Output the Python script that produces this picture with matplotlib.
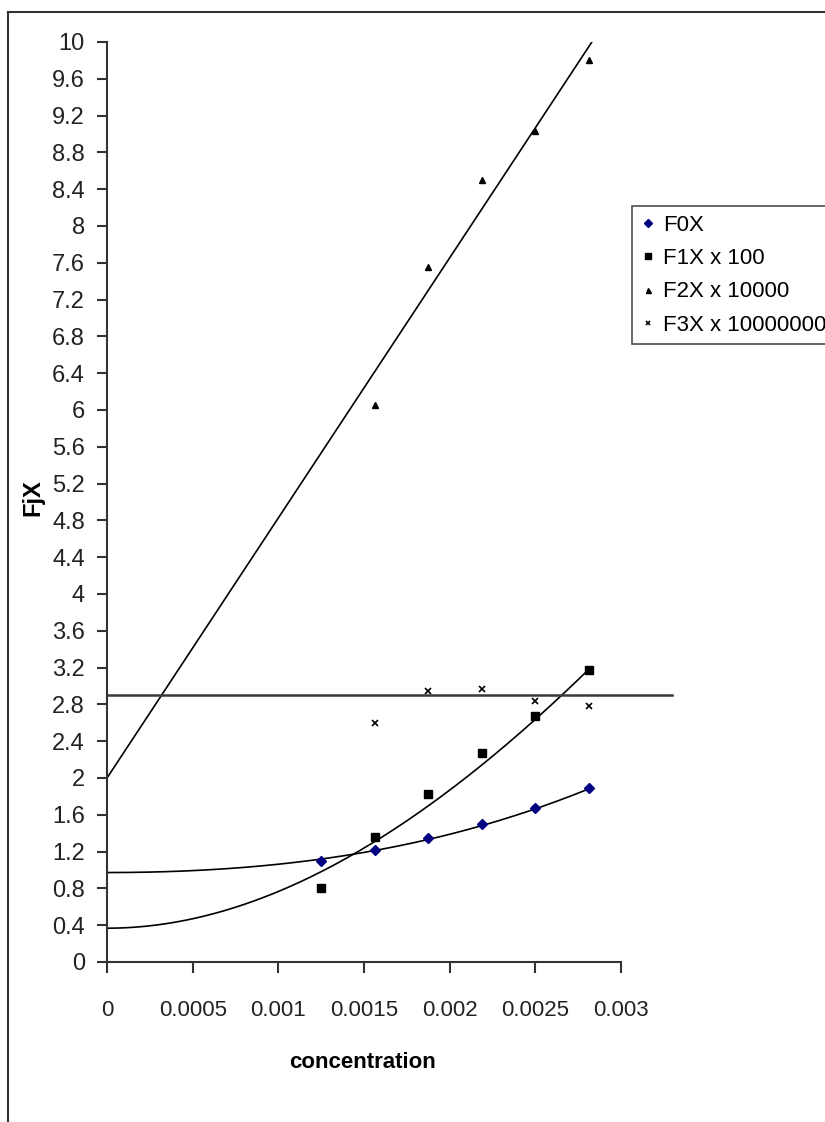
import numpy as np
import matplotlib
matplotlib.use("Agg")
import matplotlib.pyplot as plt
from matplotlib.lines import Line2D

# chart data
conc = [0.00125, 0.0015625, 0.001875, 0.0021875, 0.0025, 0.0028125]
f0x = [1.10, 1.22, 1.35, 1.50, 1.67, 1.89]
f1x = [0.80, 1.36, 1.83, 2.27, 2.67, 3.17]
conc_hi = [0.0015625, 0.001875, 0.0021875, 0.0025, 0.0028125]
f2x = [6.05, 7.55, 8.50, 9.03, 9.80]
f3x = [2.60, 2.95, 2.97, 2.84, 2.78]

# trendlines as drawn in the picture
trend0_x = [0, 0.0005, 0.001, 0.00125, 0.0015625, 0.001875, 0.0021875, 0.0025, 0.0028125]
trend0_y = [0.98, 1.00, 1.05, 1.10, 1.22, 1.34, 1.49, 1.66, 1.88]
trend1_x = [0, 0.00025, 0.0005, 0.0008, 0.001, 0.00125, 0.0015, 0.001875, 0.0021875, 0.0025, 0.0028125]
trend1_y = [0.42, 0.44, 0.49, 0.58, 0.70, 0.91, 1.20, 1.76, 2.22, 2.64, 3.14]
trend2_x = [0, 0.00283]
trend2_y = [2.0, 10.0]
trend3_x = [0, 0.0033]
trend3_y = [2.90, 2.90]

xticks = [0, 0.0005, 0.001, 0.0015, 0.002, 0.0025, 0.003]
xticklabels = ['0', '0.0005', '0.001', '0.0015', '0.002', '0.0025', '0.003']
legend_labels = ['F0X', 'F1X x 100', 'F2X x 10000', 'F3X x 10000000']

plt.rcParams['font.family'] = ['Liberation Sans', 'DejaVu Sans']

W, H = 825, 1122
fig = plt.figure(figsize=(W/100, H/100), dpi=100)
ax = fig.add_axes([107/W, 1-962/H, (621-107)/W, (962-42)/H])

# outer chart frame (left and top visible)
fig.add_artist(Line2D([8/W, 8/W], [0, 1-12/H], color='#333333', lw=1.5))
fig.add_artist(Line2D([8/W, 1], [1-12/H, 1-12/H], color='#333333', lw=1.5))

# smooth curves through the traced trendlines (a + b x^2 + c x^3, flat at 0)
for tx, ty in [(trend0_x, trend0_y), (trend1_x, trend1_y)]:
    tx = np.array(tx) * 1000
    A = np.column_stack([np.ones_like(tx), tx**2, tx**3])
    coef = np.linalg.lstsq(A, np.array(ty), rcond=None)[0]
    xs = np.linspace(tx[0], tx[-1], 200)
    ys = coef[0] + coef[1]*xs**2 + coef[2]*xs**3
    ax.plot(xs / 1000, ys, color='black', lw=1.2, zorder=2)
ax.plot(trend2_x, trend2_y, color='black', lw=1.2, zorder=2)
ax.plot(trend3_x, trend3_y, color='#3a3a3a', lw=1.8, zorder=2, clip_on=False)

h0, = ax.plot(conc, f0x, 'D', color='#000080', ms=5.5, ls='none', zorder=3)
h1, = ax.plot(conc, f1x, 's', color='black', ms=5.5, ls='none', zorder=3)
h2, = ax.plot(conc_hi, f2x, '^', color='black', ms=4.5, ls='none', zorder=3)
h3, = ax.plot(conc_hi, f3x, 'x', color='black', ms=4, mew=1.2, ls='none', zorder=3)

ax.set_xlim(0, 0.003)
ax.set_ylim(0, 10)
yt = np.round(np.arange(0, 10.01, 0.4), 1)
ax.set_yticks(yt)
ax.set_yticklabels([f'{v:g}' for v in yt])
ax.set_xticks(xticks)
ax.set_xticklabels(xticklabels)

for s in ['top', 'right']:
    ax.spines[s].set_visible(False)
for s in ['left', 'bottom']:
    ax.spines[s].set_color('#333333')
    ax.spines[s].set_linewidth(1.5)
ax.tick_params(axis='y', length=7, width=1.5, color='#333333', pad=9,
               labelsize=17, labelcolor='#222222')
ax.tick_params(axis='x', length=8, width=1.5, color='#333333', pad=19,
               labelsize=16, labelcolor='#222222')

fig.text(363/W, 1-1063/H, 'concentration', ha='center', va='center',
         fontsize=16, fontweight='bold')
fig.text(33/W, 1-498/H, 'FjX', ha='center', va='center', rotation=90,
         fontsize=17, fontweight='bold')

leg = fig.legend([h0, h1, h2, h3], legend_labels, loc='upper left',
                 bbox_to_anchor=(632/W, 1-206/H), fontsize=16, frameon=True,
                 fancybox=False, edgecolor='#222222', handlelength=0.6,
                 handletextpad=0.4, labelspacing=0.55, borderpad=0.4,
                 borderaxespad=0, markerscale=0.8)
leg.get_frame().set_linewidth(1.2)

fig.savefig('out.png', dpi=100, facecolor='white')
